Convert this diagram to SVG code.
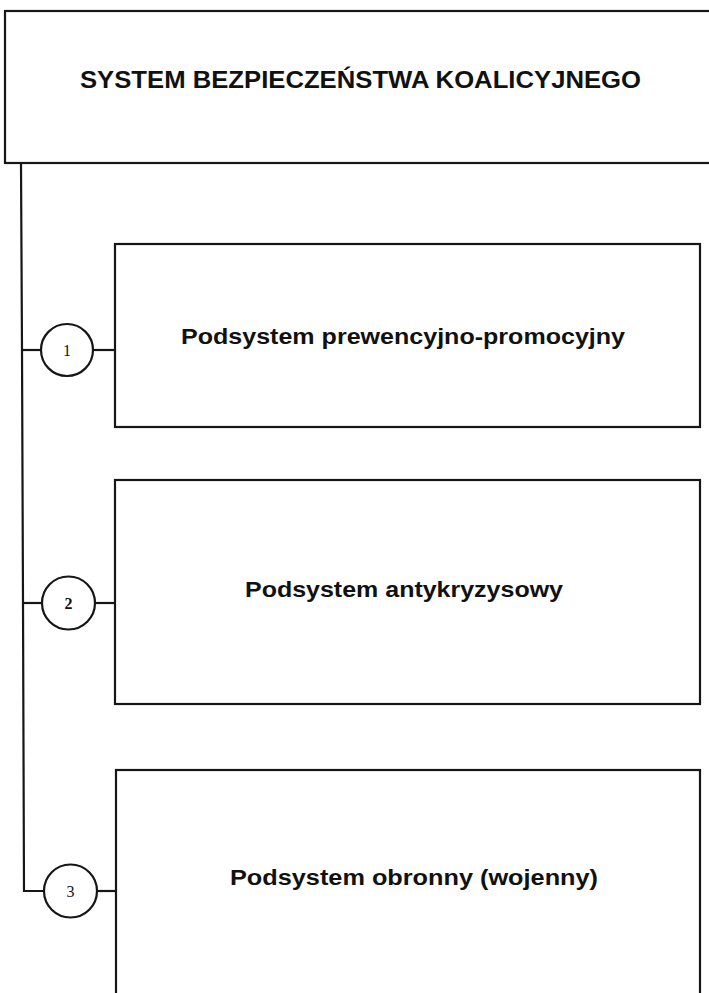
<svg xmlns="http://www.w3.org/2000/svg" width="709" height="993" viewBox="0 0 709 993">
  <style>
    .frame { fill: none; stroke: #161616; stroke-width: 2.2; }
    .wire { fill: none; stroke: #161616; stroke-width: 2.2; }
    .badge { fill: #ffffff; stroke: #161616; stroke-width: 2.2; }
    .title { font-family: "Liberation Sans", Arial, sans-serif; font-weight: bold; fill: #111; }
    .num { font-family: "Liberation Serif", "Times New Roman", serif; font-size: 16px; fill: #111; text-anchor: middle; }
  </style>
  <rect width="709" height="993" fill="#ffffff"/>

  <!-- Connectors: trunk and branches to the three subsystems -->
  <g id="connectors">
    <polyline class="wire" points="21,163 22,350 23,603 24,891 44,891"/>
    <line class="wire" x1="21" y1="350" x2="41" y2="350"/>
    <line class="wire" x1="93" y1="350" x2="115" y2="350"/>
    <line class="wire" x1="23" y1="603" x2="42" y2="603"/>
    <line class="wire" x1="95" y1="603" x2="115" y2="603"/>
    <line class="wire" x1="97" y1="891" x2="116" y2="891"/>
  </g>

  <!-- Root -->
  <g id="system">
    <rect class="frame" x="5" y="11" width="720" height="152"/>
    <text class="title" x="80" y="88" font-size="24" textLength="561" lengthAdjust="spacingAndGlyphs">SYSTEM BEZPIECZEŃSTWA KOALICYJNEGO</text>
  </g>

  <!-- Subsystem 1 -->
  <g id="sub1">
    <rect class="frame" x="115" y="244" width="585" height="183"/>
    <text class="title" x="181" y="344" font-size="22" textLength="444" lengthAdjust="spacingAndGlyphs">Podsystem prewencyjno-promocyjny</text>
  </g>
  <g id="badge1">
    <circle class="badge" cx="67" cy="350" r="26"/>
    <text class="num" x="67" y="355.5">1</text>
  </g>

  <!-- Subsystem 2 -->
  <g id="sub2">
    <rect class="frame" x="115" y="480" width="585" height="224"/>
    <text class="title" x="245" y="597" font-size="22" textLength="318" lengthAdjust="spacingAndGlyphs">Podsystem antykryzysowy</text>
  </g>
  <g id="badge2">
    <circle class="badge" cx="68.5" cy="603" r="26.5"/>
    <text class="num" x="68.5" y="608.5" font-weight="bold">2</text>
  </g>

  <!-- Subsystem 3 -->
  <g id="sub3">
    <rect class="frame" x="116" y="770" width="584" height="240"/>
    <text class="title" x="230" y="885" font-size="22" textLength="368" lengthAdjust="spacingAndGlyphs">Podsystem obronny (wojenny)</text>
  </g>
  <g id="badge3">
    <circle class="badge" cx="70.5" cy="891" r="26.5"/>
    <text class="num" x="70.5" y="896.5">3</text>
  </g>
</svg>
